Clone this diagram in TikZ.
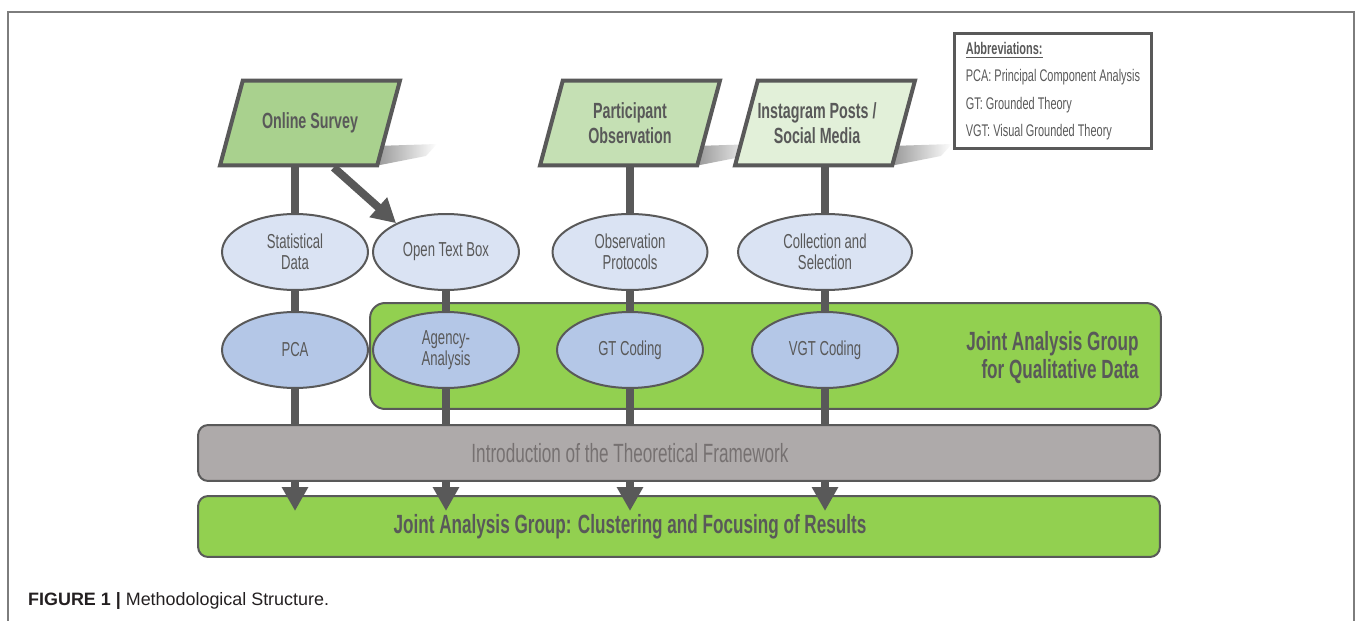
\documentclass[tikz,border=0pt]{standalone}
\usepackage{fontspec}
\setmainfont{Liberation Sans}[FakeStretch=0.65]
\newfontfamily\capfont{Liberation Sans}
\usetikzlibrary{shapes.geometric,arrows.meta,positioning}
\definecolor{edgegray}{RGB}{89,89,89}
\definecolor{framegray}{RGB}{125,125,125}
\definecolor{boxgray}{RGB}{174,170,170}
\definecolor{textgray}{RGB}{118,113,113}
\definecolor{capcol}{RGB}{35,31,32}
\definecolor{survgreen}{RGB}{169,209,142}
\definecolor{partgreen}{RGB}{197,224,180}
\definecolor{instgreen}{RGB}{226,240,217}
\definecolor{jointgreen}{RGB}{146,208,80}
\definecolor{lightblue}{RGB}{218,227,243}
\definecolor{midblue}{RGB}{180,199,231}

\begin{document}
\begin{tikzpicture}[x=0.02cm,y=-0.02cm]

	\tikzstyle{source}=[trapezium,trapezium left angle=75,trapezium right angle=105,trapezium stretches body,minimum width=3.6cm,inner xsep=0pt,inner ysep=0.85cm,draw=edgegray,line width=0.08cm]
	\tikzstyle{srclabel}=[inner sep=0pt,text=edgegray,align=center,font=\bfseries\fontsize{12.5}{14.2}\selectfont]
	\tikzstyle{datanode}=[ellipse,draw=edgegray,line width=0.04cm,fill=lightblue,minimum width=2.92cm,minimum height=1.52cm,inner sep=0pt,text=edgegray,align=center,font=\fontsize{11.5}{12}\selectfont]
	\tikzstyle{codenode}=[datanode,fill=midblue]
	\tikzstyle{band}=[rectangle,rounded corners=0.2cm,draw=edgegray,line width=0.04cm,minimum width=19.24cm,inner sep=0pt]
	\tikzstyle{bandtext}=[inner sep=0pt,text=edgegray,font=\bfseries\fontsize{15}{16.4}\selectfont]
	\tikzstyle{link}=[color=edgegray,line width=0.16cm]
	\tikzstyle{flow}=[link,-{Triangle[width=0.5cm,length=0.48cm]}]

	\useasboundingbox (0,0) rectangle (1358,621);
	\draw[framegray,line width=0.03cm] (8,621) |- (1354,12) -- (1354,621);

	\foreach \cx in {310,630,825}
		\shade[left color=black!45,right color=white] (\cx+66,146) -- (\cx+127,144) -- (\cx+116,156) -- (\cx+60,167) -- cycle;

	\node [band,fill=jointgreen,rounded corners=0.3cm,minimum width=15.82cm,minimum height=2.12cm] (qual) at (765.5,356) {};
	\node [bandtext,anchor=east,align=right] (qualtext) at ([xshift=-0.46cm,yshift=-0.03cm]qual.east) {Joint Analysis Group\\for Qualitative Data};
	\node [band,fill=jointgreen,minimum height=1.22cm] (results) at (679,526.5) {};

	\node [source,fill=survgreen,label={[srclabel]center:Online Survey}] (survey) at (310,123) {};
	\node [source,fill=partgreen,label={[srclabel]center:Participant\\Observation}] (part) at (630,123) {};
	\node [source,fill=instgreen,label={[srclabel,xshift=-0.16cm]center:Instagram Posts /\\Social Media}] (insta) at (825,123) {};

	\node [datanode] (stat) at (295,252) {Statistical\\Data};
	\node [datanode] (textbox) at (446,252) {Open Text Box};
	\node [datanode,minimum width=3.1cm] (obs) at (630,252) {Observation\\Protocols};
	\node [datanode,minimum width=3.48cm] (coll) at (825,252) {Collection and\\Selection};

	\node [codenode] (pca) at (295,350) {PCA};
	\node [codenode] (agency) at (446,350) {Agency-\\Analysis};
	\node [codenode] (gt) at (630,350) {GT Coding};
	\node [codenode] (vgt) at (825,350) {VGT Coding};

	\node [anchor=north west,draw=edgegray,line width=0.06cm,minimum width=3.94cm,minimum height=2.3cm,inner xsep=0.14cm,inner ysep=0.12cm,text=edgegray,align=left,font=\fontsize{9.6}{15.6}\selectfont] (abbr) at (953,32)
		{\textbf{\underline{Abbreviations:}}\\PCA: Principal Component Analysis\\GT: Grounded Theory\\VGT: Visual Grounded Theory};

	\path	(stat.north |- survey.south) edge[link] (stat.north)
		(stat) edge[link] (pca)
		(textbox) edge[link] (agency)
		(obs.north |- part.south) edge[link] (obs.north)
		(obs) edge[link] (gt)
		(coll.north |- insta.south) edge[link] (coll.north)
		(coll) edge[link] (vgt);
	\path	(survey.-62) edge[flow] (textbox.150)
		(pca.south) edge[flow] ([yshift=-0.32cm]pca |- results.north)
		(agency.south) edge[flow] ([yshift=-0.32cm]agency |- results.north)
		(gt.south) edge[flow] ([yshift=-0.32cm]gt |- results.north)
		(vgt.south) edge[flow] ([yshift=-0.32cm]vgt |- results.north);

	\node [band,fill=boxgray,minimum height=1.12cm] (theory) at (679,453) {};
	\node [bandtext,text=textgray,font=\fontsize{15}{16}\selectfont] (theorytext) at (theory -| gt) {Introduction of the Theoretical Framework};
	\node [bandtext] (resultstext) at (results -| gt) {Joint Analysis Group: Clustering and Focusing of Results};

	\node [anchor=west,text=capcol,font=\capfont\fontsize{10.2}{12}\selectfont] (caption) at (22,601) {\textbf{FIGURE 1 |} Methodological Structure.};
\end{tikzpicture}
\end{document}
